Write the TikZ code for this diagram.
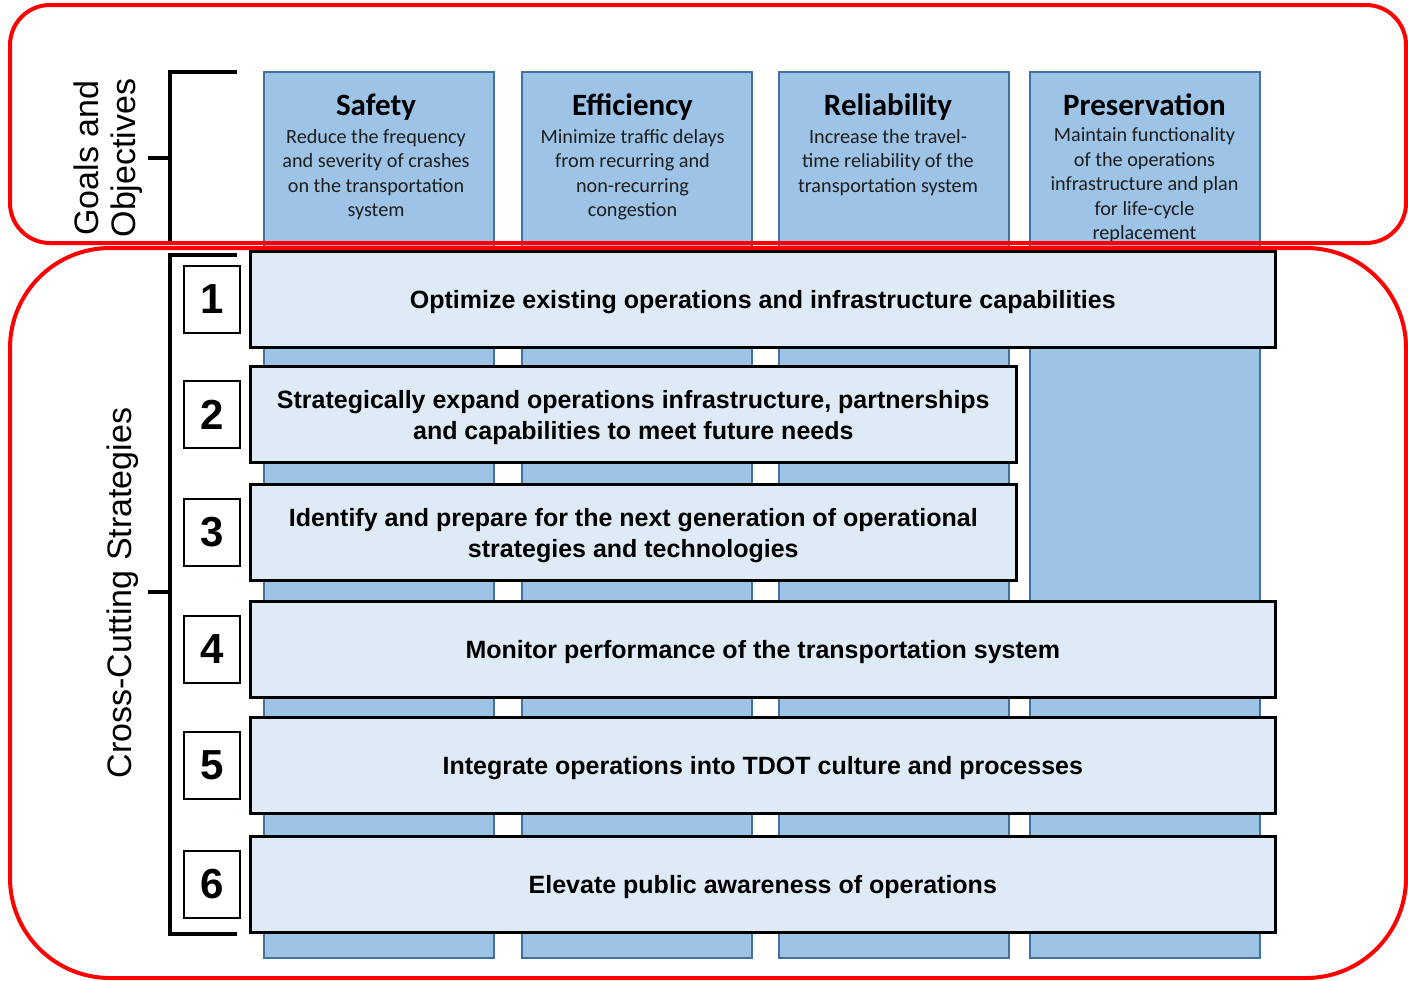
\documentclass[tikz,border=0pt]{standalone}
\usepackage{fontspec}
\setmainfont{Carlito}
\newfontfamily\arialfont{Liberation Sans}
\usetikzlibrary{calc}
\definecolor{goalfill}{RGB}{157,195,230}
\definecolor{goaldraw}{RGB}{65,113,156}
\definecolor{stratfill}{RGB}{222,235,247}
\definecolor{goalink}{RGB}{30,30,30}
\tikzset{
 goalcol/.style={draw=goaldraw, line width=1pt, fill=goalfill, minimum width=115pt, minimum height=443pt, inner sep=0pt},
 goaltitle/.style={font=\bfseries\fontsize{15.5}{17}\selectfont},
 goaltext/.style={font=\fontsize{10.1}{12.25}\selectfont, align=center, inner sep=0pt, text=goalink},
 stratbar/.style={draw=black, line width=1.3pt, fill=stratfill, minimum height=48pt, inner sep=0pt},
 strattext/.style={align=center, inner sep=0pt, font=\arialfont\bfseries\fontsize{12.5}{15.5}\selectfont},
 numbox/.style={draw=black, line width=0.7pt, fill=white, minimum width=28pt, minimum height=33.5pt, inner sep=0pt, font=\arialfont\bfseries\fontsize{21}{24}\selectfont},
 redframe/.style={draw=red, line width=2pt},
 bracket/.style={line width=2pt},
 sidelabel/.style={rotate=90, align=center, font=\arialfont\fontsize{17}{18.5}\selectfont}
}
\begin{document}
\begin{tikzpicture}[x=0.5pt, y=-0.5pt]
\useasboundingbox (0,0) rectangle (1408,980);
\foreach \cx/\tx/\nm/\ttl/\ty/\dy/\dsc in {
 379/376/safety/Safety/107/174.5/{Reduce the frequency\\and severity of crashes\\on the transportation\\system},
 636.5/632.5/efficiency/Efficiency/107/174.5/{Minimize traffic delays\\from recurring and\\non-recurring\\congestion},
 893.5/888/reliability/Reliability/107/162.5/{Increase the travel-\\time reliability of the\\transportation system},
 1144.5/1144.5/preservation/Preservation/105/185.5/{Maintain functionality\\of the operations\\infrastructure and plan\\for life-cycle\\replacement}} {
 \node[goalcol] (\nm) at (\cx,515) {};
 \node[goaltitle] (\nm-title) at (\tx,\ty) {\ttl};
 \node[goaltext] (\nm-text) at (\tx,\dy) {\dsc};
}
\foreach \i/\cy/\bw/\txt in {
 1/299.5/512.5/{Optimize existing operations and infrastructure capabilities},
 2/414.5/383/{Strategically expand operations infrastructure, partnerships\\and capabilities to meet future needs},
 3/532.5/383/{Identify and prepare for the next generation of operational\\strategies and technologies},
 4/649.5/512.5/{Monitor performance of the transportation system},
 5/765.5/512.5/{Integrate operations into TDOT culture and processes},
 6/884.5/512.5/{Elevate public awareness of operations}} {
 \node[stratbar, minimum width=\bw pt, anchor=west] (strat\i) at (249,\cy) {};
 \node[strattext] (strat\i-text) at ([yshift=-1.5pt]strat\i.center) {\txt};
 \node[numbox] (num\i) at (212,\cy) {\i};
}
\draw[bracket] (237,72) -- (170,72) -- (170,244);
\draw[bracket] (148,158) -- (170,158);
\draw[bracket] (237,255) -- (170,255) -- (170,934) -- (237,934);
\draw[bracket] (148,592) -- (170,592);
\node[sidelabel] (goals) at (108,158) {Goals and\\Objectives};
\node[sidelabel] (strategies) at (123,593) {Cross-Cutting Strategies};
\draw[redframe, rounded corners=20pt] (10,5) rectangle (1406,243);
\draw[redframe, rounded corners=50pt] (10,248) rectangle (1406,978);
\end{tikzpicture}
\end{document}
